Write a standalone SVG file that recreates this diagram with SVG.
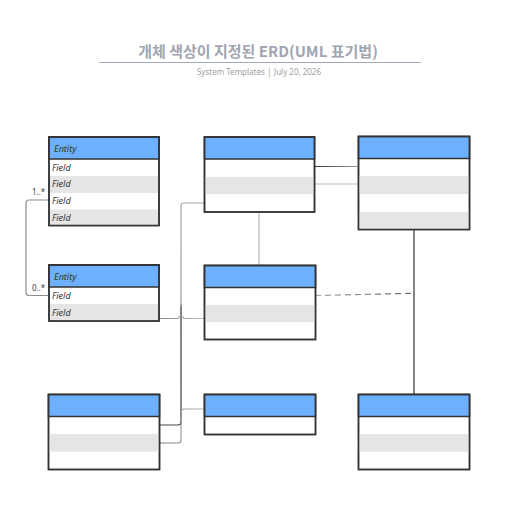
<svg xmlns="http://www.w3.org/2000/svg" width="516" height="516" viewBox="0 0 516 516">
<style>
.hdr{fill:#6db0fd;stroke:#333;stroke-width:1.5}
.box{fill:#fff;stroke:#333;stroke-width:1.5}
.alt{fill:#e5e5e5}
.frame{fill:none;stroke:#333;stroke-width:1.5}
.t{font-family:"Noto Sans","Liberation Sans",sans-serif;font-style:italic;font-size:9px;fill:#333}
.c{fill:none;stroke-width:1.2}
.lbl{font-family:"Noto Sans","Liberation Sans",sans-serif;font-size:8px;fill:#444}
</style>
<defs>
<linearGradient id="gCF" gradientUnits="userSpaceOnUse" x1="0" y1="203" x2="0" y2="425"><stop offset="0" stop-color="#aaa"/><stop offset="0.45" stop-color="#999"/><stop offset="0.47" stop-color="#333"/><stop offset="1" stop-color="#444"/></linearGradient>
<linearGradient id="gFG" gradientUnits="userSpaceOnUse" x1="159" y1="0" x2="204" y2="0"><stop offset="0" stop-color="#777"/><stop offset="1" stop-color="#bbb"/></linearGradient>
<linearGradient id="gCD1" gradientUnits="userSpaceOnUse" x1="314" y1="0" x2="358" y2="0"><stop offset="0" stop-color="#333"/><stop offset="1" stop-color="#999"/></linearGradient>
<linearGradient id="gBE" gradientUnits="userSpaceOnUse" x1="159" y1="0" x2="204" y2="0"><stop offset="0" stop-color="#888"/><stop offset="1" stop-color="#bbb"/></linearGradient>
<linearGradient id="gED" gradientUnits="userSpaceOnUse" x1="315" y1="0" x2="414" y2="0"><stop offset="0" stop-color="#aaa"/><stop offset="1" stop-color="#666"/></linearGradient>
</defs>
<rect width="516" height="516" fill="#fff"/>
<g id="title">
<text x="258" y="57" text-anchor="middle" font-family="'Noto Sans CJK KR',sans-serif" font-weight="bold" font-size="15" fill="#a0a5b2">개체 색상이 지정된 ERD(UML 표기법)</text>
<line x1="99" y1="62.5" x2="421" y2="62.5" stroke="#a3a8b8" stroke-width="1"/>
<text x="259" y="74.5" text-anchor="middle" font-family="'Noto Sans',sans-serif" font-size="8" fill="#a0a0a0">System Templates  │  July 20, 2026</text>
</g>
<g id="connectors">
<path class="c" stroke="#8c8c8c" d="M49,200 H29 Q26,200 26,203 V292.5 Q26,295.5 29,295.5 H48"/>
<path class="c" stroke="url(#gCF)" d="M204,203 H184 Q181,203 181,206 V422 Q181,425 178,425 H159"/>
<path class="c" stroke="url(#gFG)" d="M159,443 H178 Q181,443 181,440 V412 Q181,409 184,409 H204"/>
<path class="c" stroke="url(#gBE)" d="M159,318.5 H178 Q181,313 184,318.5 H204"/>
<path class="c" stroke="url(#gCD1)" d="M314,166.5 H358"/>
<path class="c" stroke="#bbb" d="M314,184 H358"/>
<path class="c" stroke="#bbb" d="M259,212 V265"/>
<path class="c" stroke="#333" d="M414,229 V394"/>
<path class="c" stroke="url(#gED)" stroke-dasharray="6,4" d="M315,295.5 L414,293.3"/>
<text class="lbl" x="32" y="195">1..*</text>
<text class="lbl" x="32" y="291">0..*</text>
</g>
<g id="entityA">
<rect class="box" x="49" y="137" width="110" height="88.5"/>
<rect class="alt" x="50" y="176" width="108" height="17"/>
<rect class="alt" x="50" y="209.5" width="108" height="15.3"/>
<rect class="hdr" x="49" y="137" width="110" height="22"/>
<rect class="frame" x="49" y="137" width="110" height="88.5"/>
<text class="t" x="54" y="151.5">Entity</text>
<text class="t" x="52" y="170.5">Field</text>
<text class="t" x="52" y="187">Field</text>
<text class="t" x="52" y="204">Field</text>
<text class="t" x="52" y="220.5">Field</text>
</g>
<g id="entityB">
<rect class="box" x="49" y="265" width="110" height="56"/>
<rect class="alt" x="50" y="304" width="108" height="16.3"/>
<rect class="hdr" x="49" y="265" width="110" height="22"/>
<rect class="frame" x="49" y="265" width="110" height="56"/>
<text class="t" x="54" y="279.5">Entity</text>
<text class="t" x="52" y="299">Field</text>
<text class="t" x="52" y="316">Field</text>
</g>
<g id="entityC">
<rect class="box" x="204.5" y="137" width="110" height="75"/>
<rect class="alt" x="205.5" y="177" width="108" height="17"/>
<rect class="hdr" x="204.5" y="137" width="110" height="22"/>
<rect class="frame" x="204.5" y="137" width="110" height="75"/>
</g>
<g id="entityD">
<rect class="box" x="358.5" y="136.5" width="111" height="93"/>
<rect class="alt" x="359.5" y="176" width="109" height="18"/>
<rect class="alt" x="359.5" y="212" width="109" height="16.8"/>
<rect class="hdr" x="358.5" y="136.5" width="111" height="22"/>
<rect class="frame" x="358.5" y="136.5" width="111" height="93"/>
</g>
<g id="entityE">
<rect class="box" x="204.5" y="265.5" width="111" height="74"/>
<rect class="alt" x="205.5" y="305" width="109" height="17"/>
<rect class="hdr" x="204.5" y="265.5" width="111" height="22"/>
<rect class="frame" x="204.5" y="265.5" width="111" height="74"/>
</g>
<g id="entityF">
<rect class="box" x="48.5" y="394.5" width="111" height="75"/>
<rect class="alt" x="49.5" y="434" width="109" height="17.7"/>
<rect class="hdr" x="48.5" y="394.5" width="111" height="22"/>
<rect class="frame" x="48.5" y="394.5" width="111" height="75"/>
</g>
<g id="entityG">
<rect class="box" x="204.5" y="394.5" width="111" height="40"/>
<rect class="hdr" x="204.5" y="394.5" width="111" height="22"/>
<rect class="frame" x="204.5" y="394.5" width="111" height="40"/>
</g>
<g id="entityH">
<rect class="box" x="358.5" y="394.5" width="111" height="75"/>
<rect class="alt" x="359.5" y="434" width="109" height="17.7"/>
<rect class="hdr" x="358.5" y="394.5" width="111" height="22"/>
<rect class="frame" x="358.5" y="394.5" width="111" height="75"/>
</g>
</svg>
